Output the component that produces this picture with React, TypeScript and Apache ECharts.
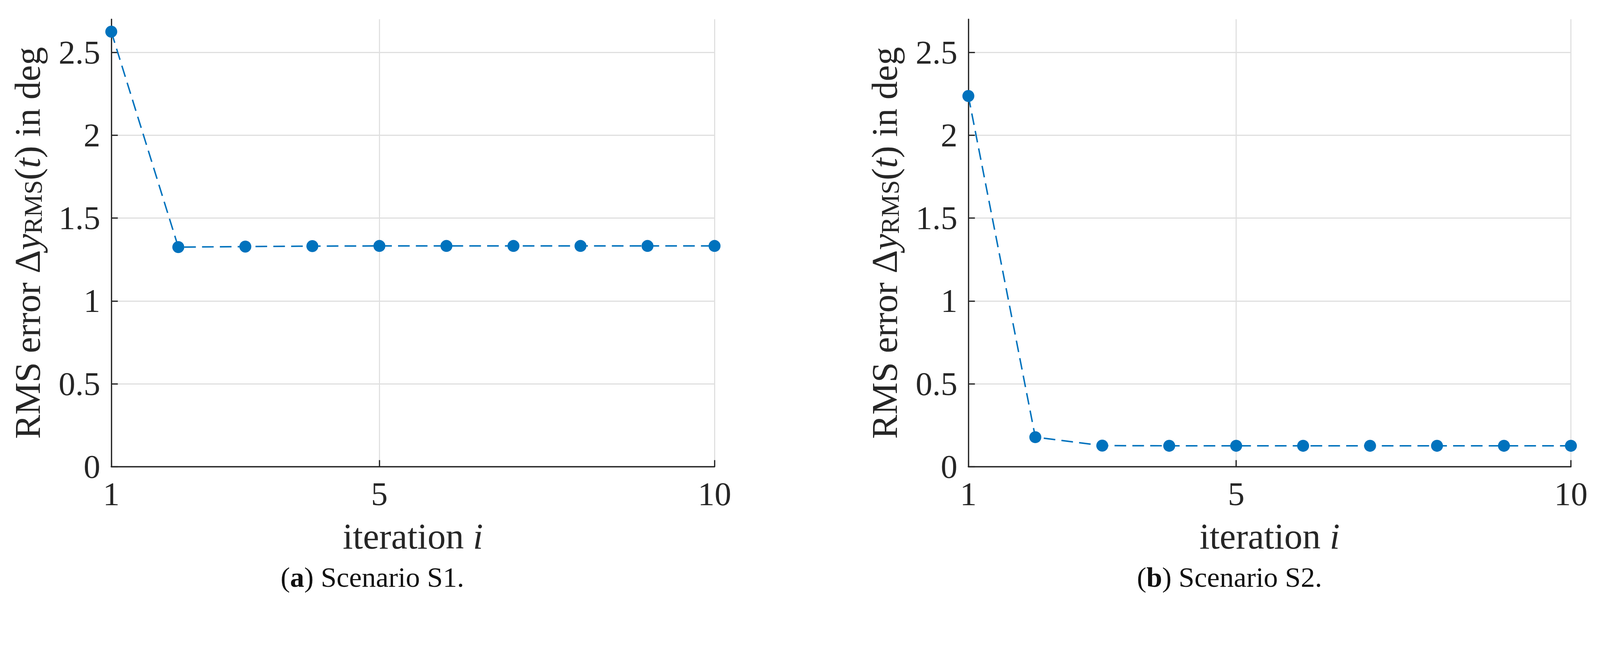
import React, { useEffect, useRef } from "react";
import * as echarts from "echarts";

const iterations = [1, 2, 3, 4, 5, 6, 7, 8, 9, 10];
const rmsS1 = [2.625, 1.325, 1.328, 1.331, 1.332, 1.332, 1.332, 1.332, 1.332, 1.332];
const rmsS2 = [2.237, 0.178, 0.127, 0.126, 0.126, 0.126, 0.126, 0.126, 0.126, 0.126];
const xTicks = [1, 5, 10];
const yTicks = [0, 0.5, 1, 1.5, 2, 2.5];
const captions = ["({b|a}) Scenario S1.", "({b|b}) Scenario S2."];

const FONT = "'Liberation Serif', 'Times New Roman', serif";
const AXIS = "#262626";
const GRID = "#dfdfdf";
const BLUE = "#0072BD";

const W = 4400;
const H = 1670;

const gridBoxes = [
  { left: 306, top: 53, width: 1659, height: 1231 },
  { left: 2663, top: 53, width: 1657, height: 1231 },
];
const captionCenters = [1024, 3381];

function buildOption(s: number) {
  const xAxes = gridBoxes.map((_, i) => ({
    type: "value",
    gridIndex: i,
    min: 1,
    max: 10,
    axisLine: { show: true, onZero: false, lineStyle: { color: AXIS, width: 3.5 * s } },
    axisTick: { show: true, inside: true, length: 18 * s, customValues: xTicks, lineStyle: { color: AXIS, width: 3.5 * s } },
    axisLabel: {
      customValues: xTicks,
      margin: 29 * s,
      fontSize: 92 * s,
      fontFamily: FONT,
      color: AXIS,
      formatter: (v: number) => String(v),
    },
    splitLine: { show: true, customValues: xTicks, lineStyle: { color: GRID, width: 3 * s } },
    name: "iteration {i|i}",
    nameLocation: "middle",
    nameGap: 142 * s,
    nameTextStyle: {
      fontSize: 100 * s,
      fontFamily: FONT,
      color: AXIS,
      rich: { i: { fontSize: 100 * s, fontFamily: FONT, fontStyle: "italic", color: AXIS } },
    },
  }));
  const yAxes = gridBoxes.map((_, i) => ({
    type: "value",
    gridIndex: i,
    min: 0,
    max: 2.7,
    interval: 0.5,
    axisLine: { show: true, onZero: false, lineStyle: { color: AXIS, width: 3.5 * s } },
    axisTick: { show: true, inside: true, length: 18 * s, customValues: yTicks, lineStyle: { color: AXIS, width: 3.5 * s } },
    axisLabel: {
      customValues: yTicks,
      margin: 30 * s,
      fontSize: 92 * s,
      fontFamily: FONT,
      color: AXIS,
      formatter: (v: number) => String(v),
    },
    splitLine: { show: true, customValues: yTicks, lineStyle: { color: GRID, width: 3 * s } },
    name: "RMS error Δ{i|y}{s|RMS}({i|t}) in deg",
    nameLocation: "middle",
    nameRotate: 90,
    nameGap: 180 * s,
    nameTextStyle: {
      fontSize: 100 * s,
      fontFamily: FONT,
      color: AXIS,
      rich: {
        i: { fontSize: 100 * s, fontFamily: FONT, fontStyle: "italic", color: AXIS },
        s: { fontSize: 70 * s, lineHeight: 44 * s, verticalAlign: "bottom", fontFamily: FONT, color: AXIS },
      },
    },
  }));
  const makeSeries = (vals: number[], i: number) => ({
    type: "line",
    xAxisIndex: i,
    yAxisIndex: i,
    data: iterations.map((x, k) => [x, vals[k]]),
    symbol: "circle",
    symbolSize: 33 * s,
    itemStyle: { color: BLUE },
    lineStyle: { color: BLUE, width: 4 * s, type: [32 * s, 17 * s] },
    z: 5,
  });
  return {
    animation: false,
    backgroundColor: "#ffffff",
    grid: gridBoxes.map((g) => ({
      left: g.left * s,
      top: g.top * s,
      width: g.width * s,
      height: g.height * s,
    })),
    xAxis: xAxes,
    yAxis: yAxes,
    series: [makeSeries(rmsS1, 0), makeSeries(rmsS2, 1)],
    graphic: captions.map((c, i) => ({
      type: "text",
      x: captionCenters[i] * s,
      y: 1588 * s,
      style: {
        text: c,
        fontSize: 78 * s,
        fontFamily: FONT,
        fill: "#111111",
        textAlign: "center",
        textVerticalAlign: "middle",
        rich: { b: { fontSize: 78 * s, fontFamily: FONT, fontWeight: "bold", fill: "#111111" } },
      },
    })),
  };
}

export default function App() {
  const ref = useRef<HTMLDivElement>(null);
  const s = Math.min(window.innerWidth / W, window.innerHeight / H);
  useEffect(() => {
    document.body.style.margin = "0";
    document.body.style.overflow = "hidden";
    if (!ref.current) return;
    const chart = echarts.init(ref.current, undefined, { renderer: "svg" });
    chart.setOption(buildOption(s) as any);
    return () => chart.dispose();
  }, []);
  return (
    <div
      ref={ref}
      style={{ position: "absolute", left: 0, top: 0, width: W * s, height: H * s, background: "#fff" }}
    />
  );
}
